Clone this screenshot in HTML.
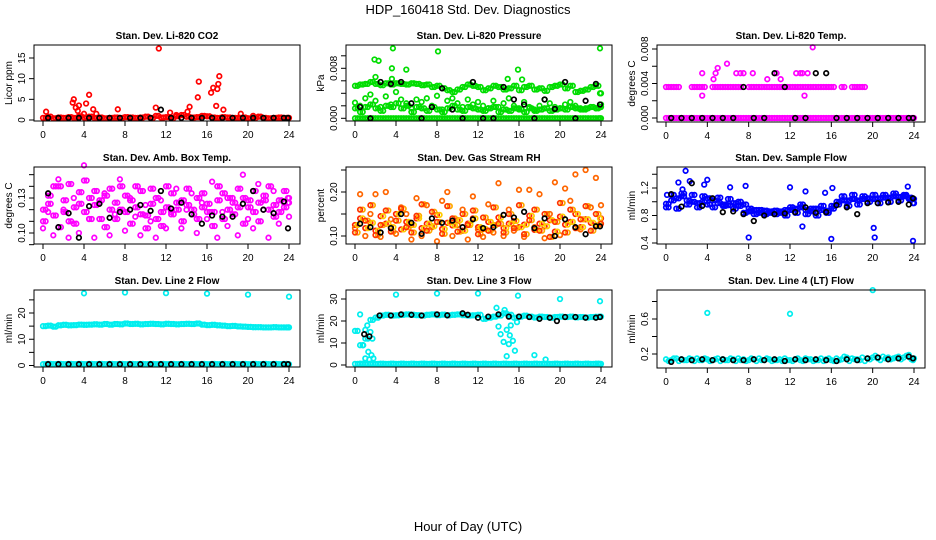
<!DOCTYPE html>
<html><head><meta charset="utf-8"><style>
html,body{margin:0;padding:0;background:#fff;}
svg{display:block;font-family:"Liberation Sans",sans-serif;}
</style></head><body>
<svg id="chart" width="936" height="540" viewBox="0 0 936 540" xmlns="http://www.w3.org/2000/svg">
<text x="468" y="14" text-anchor="middle" font-size="13">HDP_160418  Std. Dev. Diagnostics</text>
<text x="468" y="531" text-anchor="middle" font-size="13">Hour of Day (UTC)</text>
</svg>
<script>
const H = [0,0.5,1,1.5,2,2.5,3,3.5,4,4.5,5,5.5,6,6.5,7,7.5,8,8.5,9,9.5,10,10.5,11,11.5,12,12.5,13,13.5,14,14.5,15,15.5,16,16.5,17,17.5,18,18.5,19,19.5,20,20.5,21,21.5,22,22.5,23,23.5,24];
const H2 = [0.25,0.75,1.25,1.75,2.25,2.75,3.25,3.75,4.25,4.75,5.25,5.75,6.25,6.75,7.25,7.75,8.25,8.75,9.25,9.75,10.25,10.75,11.25,11.75,12.25,12.75,13.25,13.75,14.25,14.75,15.25,15.75,16.25,16.75,17.25,17.75,18.25,18.75,19.25,19.75,20.25,20.75,21.25,21.75,22.25,22.75,23.25,23.75,23.9];
const HK = [0.5,1.5,2.5,3.5,4.5,5.5,6.5,7.5,8.5,9.5,10.5,11.5,12.5,13.5,14.5,15.5,16.5,17.5,18.5,19.5,20.5,21.5,22.5,23.5,23.9];
const xTicks = [0,4,8,12,16,20,24];

// Panel 1: CO2
const co2Base = [0.5,0.8,0.4,0.6,0.5,0.7,0.5,0.9,0.6,0.8,0.5,0.6,0.4,0.5,0.6,0.5,0.7,0.6,0.5,0.6,0.8,0.5,1.0,0.6,0.7,0.5,0.9,1.2,0.8,0.6,0.7,1.0,0.9,0.6,0.5,0.7,0.6,0.5,0.5,0.6,0.4,0.5,0.8,0.5,0.4,0.5,0.6,0.5,0.5];
const co2SpikeX = [0.3,2.9,3.0,3.2,3.4,3.5,4.2,4.5,4.9,5.2,7.3,11.0,11.3,12.4,14.1,14.3,15.1,15.2,16.4,16.6,16.9,17.0,17.1,17.2,17.6,19.3,20.5,4.0,13.0];
const co2SpikeY = [2.0,4.2,5.0,3.0,2.2,3.5,4.0,6.1,2.6,1.5,2.6,3.0,17.3,1.8,2.0,3.2,5.5,9.3,6.6,7.8,3.4,7.5,8.7,10.6,2.5,1.5,1.0,1.5,1.2];
const co2Black = [0.5,0.5,0.5,0.5,0.5,0.5,0.5,0.5,0.5,0.5,0.5,2.5,0.5,0.5,0.5,0.5,0.5,0.5,0.5,0.5,0.5,0.5,0.5,0.5,0.5];

// Panel 2: Pressure
const presTop = [0.0052,0.0054,0.0055,0.0058,0.0055,0.0053,0.0056,0.0054,0.0056,0.0055,0.0054,0.0056,0.0055,0.0053,0.0054,0.0050,0.0052,0.0048,0.0045,0.0042,0.0046,0.0050,0.0054,0.0052,0.0050,0.0045,0.0048,0.0052,0.0050,0.0046,0.0048,0.0052,0.0045,0.0050,0.0052,0.0046,0.0048,0.0044,0.0050,0.0052,0.0054,0.0048,0.0052,0.0042,0.0044,0.0046,0.0050,0.0052,0.0040];
const presMid = [0.0025,0.0020,0.0032,0.0038,0.0028,0.0018,0.0035,0.0022,0.0042,0.0030,0.0024,0.0016,0.0030,0.0026,0.0032,0.0020,0.0036,0.0014,0.0028,0.0032,0.0024,0.0018,0.0030,0.0022,0.0026,0.0020,0.0016,0.0028,0.0018,0.0024,0.0032,0.0020,0.0016,0.0026,0.0018,0.0014,0.0020,0.0030,0.0024,0.0018,0.0016,0.0022,0.0026,0.0020,0.0016,0.0014,0.0018,0.0016,0.0022];
const presLow = [0.0016,0.0010,0.0018,0.0022,0.0016,0.0012,0.0020,0.0018,0.0024,0.0016,0.0020,0.0010,0.0018,0.0016,0.0012,0.0018,0.0014,0.0010,0.0016,0.0020,0.0014,0.0012,0.0018,0.0016,0.0014,0.0012,0.0016,0.0018,0.0010,0.0014,0.0012,0.0016,0.0014,0.0010,0.0016,0.0012,0.0014,0.0016,0.0012,0.0014,0.0016,0.0014,0.0018,0.0016,0.0014,0.0016,0.0018,0.0016,0.0018];
const presZero = [0,0,0,0,0,0,0,0,0,0,0,0,0,0,0,0,0,0,0,0,0,0,0,0,0,0,0,0,0,0,0,0,0,0,0,0,0,0,0,0,0,0,0,0,0,0,0,0,0];
const presOutX = [3.7,8.1,23.9,1.9,2.3,3.6,5.0,15.9,2.0,3.6,16.3,14.9];
const presOutY = [0.0112,0.0107,0.0112,0.0094,0.0092,0.0080,0.0078,0.0078,0.0066,0.0063,0.0062,0.0063];
const presBlack = [0.0018,0.0000,0.0058,0.0055,0.0058,0.0024,0.0000,0.0018,0.0048,0.0014,0.0000,0.0058,0.0000,0.0000,0.0050,0.0030,0.0022,0.0000,0.0030,0.0015,0.0058,0.0000,0.0028,0.0055,0.0022];

// Panel 3: Li-820 Temp
const tempZero = [0,0,0,0,0,0,0,0,0,0,0,0,0,0,0,0,0,0,0,0,0,0,0,0,0,0,0,0,0,0,0,0,0,0,0,0,0,0,0,0,0,0,0,0,0,0,0,0,0];
const tempMid = [0.0036,0.0036,0.0036,null,null,0.0036,0.0036,0.0036,null,0.0036,0.0036,0.0036,0.0036,0.0036,0.0036,null,0.0036,0.0036,0.0036,0.0036,0.0036,0.0036,0.0036,0.0036,0.0036,0.0036,0.0036,0.0036,0.0036,0.0036,0.0036,0.0036,0.0036,null,0.0036,null,0.0036,0.0036,0.0036,null,null,null,null,null,null,null,null,null,null];
const tempHiX = [3.5,3.5,4.6,4.8,5.0,5.9,6.8,7.2,7.5,8.4,9.8,10.7,11.1,12.6,13.0,13.2,13.7,14.2,13.4];
const tempHiY = [0.0052,0.0026,0.0045,0.0052,0.0058,0.0063,0.0052,0.0052,0.0052,0.0052,0.0045,0.0052,0.0045,0.0052,0.0052,0.0052,0.0052,0.0082,0.0026];
const tempBlack = [0,0,0,0,0,0,0,0.0036,0,0,0.0052,0.0036,0,0,0.0052,0.0052,0,0,0,0,0,0,0,0,0];

// Panel 4: Amb Box Temp
const ambA = [0.120,0.125,0.115,0.140,0.128,0.110,0.122,0.135,0.118,0.130,0.124,0.112,0.132,0.120,0.126,0.140,0.118,0.128,0.122,0.136,0.115,0.125,0.130,0.118,0.122,0.134,0.120,0.128,0.124,0.116,0.130,0.122,0.125,0.118,0.128,0.134,0.120,0.126,0.122,0.130,0.128,0.118,0.126,0.132,0.120,0.124,0.128,0.122,0.126];
const ambB = [0.110,0.132,0.140,0.105,0.118,0.142,0.108,0.125,0.145,0.112,0.136,0.128,0.105,0.138,0.112,0.120,0.132,0.108,0.140,0.116,0.104,0.138,0.112,0.106,0.140,0.116,0.126,0.110,0.138,0.120,0.112,0.134,0.118,0.106,0.140,0.112,0.130,0.116,0.138,0.108,0.122,0.136,0.110,0.128,0.140,0.114,0.118,0.136,0.130];
const ambC = [0.104,0.118,0.098,0.146,0.120,0.096,0.130,0.100,0.158,0.112,0.096,0.126,0.134,0.098,0.116,0.146,0.102,0.130,0.114,0.098,0.124,0.110,0.096,0.128,0.104,0.118,0.138,0.104,0.120,0.134,0.100,0.126,0.112,0.144,0.096,0.118,0.106,0.130,0.098,0.150,0.112,0.104,0.142,0.120,0.096,0.136,0.108,0.126,0.114];
const ambBlack = [0.134,0.105,0.117,0.096,0.123,0.125,0.113,0.118,0.120,0.124,0.119,0.136,0.121,0.126,0.116,0.108,0.115,0.114,0.114,0.125,0.136,0.120,0.117,0.127,0.104];

// Panel 5: Gas Stream RH
const rhA = [0.125,0.140,0.118,0.130,0.112,0.145,0.128,0.120,0.150,0.115,0.132,0.125,0.140,0.118,0.128,0.122,0.148,0.116,0.130,0.124,0.136,0.112,0.128,0.140,0.120,0.116,0.132,0.125,0.142,0.118,0.128,0.134,0.120,0.126,0.146,0.114,0.128,0.122,0.136,0.110,0.144,0.126,0.132,0.150,0.120,0.138,0.130,0.124,0.140];
const rhB = [0.108,0.160,0.135,0.170,0.102,0.125,0.158,0.110,0.135,0.162,0.120,0.108,0.146,0.172,0.112,0.155,0.132,0.105,0.168,0.140,0.110,0.150,0.125,0.158,0.104,0.142,0.112,0.165,0.128,0.108,0.150,0.118,0.170,0.104,0.136,0.160,0.112,0.150,0.098,0.132,0.175,0.108,0.160,0.118,0.138,0.168,0.112,0.150,0.128];
const rhC = [0.118,0.195,0.100,0.150,0.195,0.098,0.200,0.138,0.105,0.165,0.150,0.092,0.186,0.100,0.170,0.120,0.088,0.180,0.200,0.100,0.125,0.160,0.092,0.190,0.115,0.098,0.172,0.108,0.220,0.100,0.160,0.112,0.205,0.098,0.205,0.120,0.195,0.095,0.150,0.222,0.102,0.208,0.180,0.240,0.115,0.250,0.165,0.232,0.170];
const rhBlack = [0.128,0.120,0.108,0.118,0.150,0.130,0.105,0.140,0.130,0.135,0.120,0.138,0.118,0.120,0.148,0.142,0.155,0.118,0.140,0.100,0.138,0.120,0.104,0.122,0.122];

// Panel 6: Sample Flow
const flowA = [0.97,1.02,1.05,1.08,1.02,1.00,0.98,1.00,0.96,1.02,0.98,0.96,0.95,0.98,0.94,0.96,0.90,0.88,0.88,0.87,0.86,0.87,0.86,0.88,0.88,0.90,0.92,0.88,0.86,0.90,0.88,0.87,0.90,1.00,1.02,1.02,1.04,1.02,1.04,1.05,1.04,1.05,1.06,1.06,1.08,1.07,1.08,1.06,1.04];
const flowB = [0.92,1.10,0.90,1.12,0.96,1.10,0.92,1.08,1.05,0.92,1.06,0.94,1.04,0.90,1.00,0.84,0.86,0.82,0.84,0.82,0.84,0.82,0.84,0.80,0.92,0.84,0.96,0.82,0.90,0.80,0.94,0.84,0.94,0.96,1.08,0.94,1.10,0.96,1.08,1.00,1.10,0.98,1.10,1.00,1.12,1.02,1.10,1.04,0.98];
const flowOutX = [0.1,1.2,1.9,2.3,3.7,4.0,6.2,7.7,8.0,12.0,13.2,13.5,15.4,16.0,16.1,20.1,20.2,23.9,23.4,1.6];
const flowOutY = [1.10,1.28,1.45,1.30,1.25,1.32,1.21,1.23,0.48,1.21,0.64,1.15,1.13,0.46,1.20,0.62,0.48,0.43,1.22,1.18];
const flowBlack = [1.11,0.93,1.27,0.94,1.05,0.85,0.86,0.82,0.72,0.80,0.82,0.83,0.85,0.92,0.84,0.85,0.95,0.92,0.82,0.98,0.98,0.99,1.00,0.96,1.05];

// Panel 7: Line 2 Flow
const l2Top = [15.0,15.2,14.8,15.3,15.5,15.3,15.4,15.6,15.5,15.6,15.7,15.6,15.8,15.6,15.8,15.7,16.0,15.8,15.9,15.7,15.8,15.9,15.8,15.7,15.9,15.8,15.7,15.8,15.9,15.8,16.0,15.6,15.4,15.5,15.3,15.2,15.0,15.1,14.9,14.8,14.7,14.6,14.6,14.5,14.5,14.6,14.5,14.5,14.5];
const l2Low = [0.5,0.6,0.5,0.6,0.5,0.6,0.5,0.6,0.5,0.6,0.5,0.6,0.5,0.6,0.5,0.6,0.5,0.6,0.5,0.6,0.5,0.6,0.5,0.6,0.5,0.6,0.5,0.6,0.5,0.6,0.5,0.6,0.5,0.6,0.5,0.6,0.5,0.6,0.5,0.6,0.5,0.6,0.5,0.6,0.5,0.6,0.5,0.6,0.5];
const l2OutX = [4,8,12,16,20,24];
const l2OutY = [27.5,27.8,27.6,27.4,27.0,26.2];
const l2Black = [0.5,0.5,0.5,0.5,0.5,0.5,0.5,0.5,0.5,0.5,0.5,0.5,0.5,0.5,0.5,0.5,0.5,0.5,0.5,0.5,0.5,0.5,0.5,0.5,0.5];

// Panel 8: Line 3 Flow
const l3Top = [15.5,9.0,12.0,20.5,21.5,22.5,22.8,22.5,22.6,22.8,23.0,22.8,22.7,22.5,22.8,23.0,22.7,22.9,22.6,22.8,23.0,22.7,22.5,22.6,22.8,21.0,21.5,22.0,22.5,23.5,22.8,21.5,22.0,22.4,22.0,21.6,22.0,21.8,21.5,21.8,22.0,21.8,22.0,21.7,21.8,21.6,21.8,21.9,22.0];
const l3Low = [0.5,0.6,0.5,0.6,0.5,0.6,0.5,0.6,0.5,0.6,0.5,0.6,0.5,0.6,0.5,0.6,0.5,0.6,0.5,0.6,0.5,0.6,0.5,0.6,0.5,0.6,0.5,0.6,0.5,0.6,0.5,0.6,0.5,0.6,0.5,0.6,0.5,0.6,0.5,0.6,0.5,0.6,0.5,0.6,0.5,0.6,0.5,0.6,0.5];
const l3OutX = [0.5,0.8,1.0,1.2,1.3,1.5,1.6,1.7,1.8,1.0,1.4,4.0,8.0,12.0,15.9,20.0,23.9,13.8,14.2,14.5,14.8,15.0,15.2,15.4,14.6,15.6,15.1,14.8,17.5,18.6,14.0,15.8];
const l3OutY = [23.0,9.0,3.0,18.0,6.0,15.0,4.5,12.0,3.0,16.0,2.5,32.0,32.5,32.5,31.5,30.0,29.0,26.0,14.0,10.5,16.0,9.5,18.0,11.0,25.0,6.5,13.5,4.0,4.5,2.5,17.5,19.5];
const l3Black = [14.0,13.0,22.5,22.5,23.0,22.8,22.5,23.0,22.6,23.5,22.8,21.5,22.0,23.0,22.0,22.0,21.8,21.0,21.5,20.0,21.8,21.8,21.5,21.5,21.8];
const l3BlackX = [0.9,1.4,2.4,3.5,4.5,5.5,6.5,8.0,9.0,10.5,11.0,12.0,13.0,14.0,15.0,16.0,17.0,18.0,19.0,19.7,20.5,21.5,22.5,23.5,23.9];

// Panel 9: Line 4 Flow
const l4A = [0.14,0.13,0.15,0.14,0.13,0.14,0.15,0.13,0.14,0.13,0.15,0.14,0.13,0.14,0.15,0.14,0.13,0.14,0.15,0.13,0.14,0.13,0.14,0.15,0.13,0.14,0.13,0.15,0.14,0.13,0.15,0.14,0.13,0.15,0.14,0.16,0.15,0.14,0.16,0.15,0.16,0.15,0.17,0.16,0.15,0.17,0.16,0.18,0.15];
const l4B = [0.12,0.15,0.12,0.13,0.15,0.12,0.13,0.15,0.12,0.14,0.12,0.13,0.15,0.12,0.13,0.12,0.15,0.12,0.13,0.15,0.12,0.13,0.12,0.13,0.12,0.15,0.12,0.14,0.12,0.13,0.12,0.15,0.12,0.13,0.17,0.12,0.14,0.13,0.12,0.14,0.18,0.13,0.15,0.14,0.16,0.14,0.18,0.14,0.13];
const l4OutX = [4,12,20,23.5];
const l4OutY = [0.67,0.66,0.93,0.19];
const l4Black = [0.11,0.14,0.13,0.14,0.13,0.14,0.13,0.13,0.14,0.13,0.14,0.12,0.14,0.13,0.14,0.13,0.12,0.14,0.13,0.15,0.16,0.14,0.15,0.17,0.15];

const panels = [
 {name:'co2', title:'Stan. Dev. Li-820 CO2', ylab:'Licor ppm', L:34,R:300,T:45,B:121, y0:0,y0px:120,y1:15,y1px:58, yt:[0,5,10,15], yl:['0','5','10','15'],
  series:[[H,co2Base,'#ff0000'],[H2,co2Base,'#ff0000'],[co2SpikeX,co2SpikeY,'#ff0000'],[HK,co2Black,'#000']]},
 {name:'pressure', title:'Stan. Dev. Li-820 Pressure', ylab:'kPa', L:346,R:612,T:45,B:121, y0:0,y0px:118.3,y1:0.008,y1px:68.3, yt:[0,0.002,0.004,0.006,0.008,0.010,0.012], yl:['0.000','','','','0.008','',''],
  series:[[H,presTop,'#00dd00'],[H2,presTop,'#00dd00'],[H,presMid,'#00dd00'],[H2,presLow,'#00dd00'],[H,presLow,'#00dd00'],[H,presZero,'#00dd00'],[H2,presZero,'#00dd00'],[presOutX,presOutY,'#00dd00'],[HK,presBlack,'#000']]},
 {name:'li820-temp', title:'Stan. Dev. Li-820 Temp.', ylab:'degrees C', L:657,R:925,T:45,B:122, y0:0,y0px:118,y1:0.008,y1px:49, yt:[0,0.002,0.004,0.006,0.008], yl:['0.000','','0.004','','0.008'],
  series:[[H,tempZero,'#ff00ff'],[H2,tempZero,'#ff00ff'],[H,tempMid,'#ff00ff'],[H2,tempMid,'#ff00ff'],[tempHiX,tempHiY,'#ff00ff'],[HK,tempBlack,'#000']]},
 {name:'amb-box-temp', title:'Stan. Dev. Amb. Box Temp.', ylab:'degrees C', L:34,R:300,T:167,B:244, y0:0.10,y0px:233,y1:0.13,y1px:198, yt:[0.09,0.10,0.11,0.12,0.13,0.14,0.15], yl:['','0.10','','','0.13','',''],
  series:[[H,ambA,'#ff00ff'],[H2,ambB,'#ff00ff'],[H,ambC,'#ff00ff'],[H2,ambA,'#ff00ff'],[H,ambB,'#ff00ff'],[HK,ambBlack,'#000']]},
 {name:'gas-stream-rh', title:'Stan. Dev. Gas Stream RH', ylab:'percent', L:346,R:612,T:167,B:244, y0:0.10,y0px:236,y1:0.20,y1px:192, yt:[0.10,0.15,0.20,0.25], yl:['0.10','','0.20',''],
  series:[[H,rhA,'#ff2200'],[H2,rhB,'#ffaa00'],[H,rhC,'#ff6600'],[H2,rhA,'#ffcc00'],[H,rhB,'#ff3300'],[HK,rhBlack,'#000']]},
 {name:'sample-flow', title:'Stan. Dev. Sample Flow', ylab:'ml/min', L:657,R:925,T:167,B:244, y0:0.4,y0px:243,y1:1.2,y1px:188, yt:[0.4,0.6,0.8,1.0,1.2,1.4], yl:['0.4','','0.8','','1.2',''],
  series:[[H,flowA,'#0000ff'],[H2,flowA,'#0000ff'],[H,flowB,'#0000ff'],[H2,flowB,'#0000ff'],[flowOutX,flowOutY,'#0000ff'],[HK,flowBlack,'#000']]},
 {name:'line2-flow', title:'Stan. Dev. Line 2 Flow', ylab:'ml/min', L:34,R:300,T:290,B:367, y0:0,y0px:365.5,y1:20,y1px:313, yt:[0,5,10,15,20,25], yl:['0','','10','','20',''],
  series:[[H,l2Top,'#00eeee'],[H2,l2Top,'#00eeee'],[H,l2Low,'#00eeee'],[H2,l2Low,'#00eeee'],[l2OutX,l2OutY,'#00eeee'],[HK,l2Black,'#000']]},
 {name:'line3-flow', title:'Stan. Dev. Line 3 Flow', ylab:'ml/min', L:346,R:612,T:290,B:367, y0:0,y0px:365,y1:30,y1px:299, yt:[0,10,20,30], yl:['0','10','20','30'],
  series:[[H,l3Top,'#00eeee'],[H2,l3Top,'#00eeee'],[H,l3Low,'#00eeee'],[H2,l3Low,'#00eeee'],[l3OutX,l3OutY,'#00eeee'],[l3BlackX,l3Black,'#000']]},
 {name:'line4-flow', title:'Stan. Dev. Line 4 (LT) Flow', ylab:'ml/min', L:657,R:925,T:290,B:368, y0:0.2,y0px:354,y1:0.6,y1px:319, yt:[0.2,0.4,0.6,0.8], yl:['0.2','','0.6',''],
  series:[[H,l4A,'#00eeee'],[H2,l4B,'#00eeee'],[l4OutX,l4OutY,'#00eeee'],[HK,l4Black,'#000']]}
];

const NS='http://www.w3.org/2000/svg';
const svg=document.getElementById('chart');
function mk(tag,attrs,parent){const e=document.createElementNS(NS,tag);for(const k in attrs)e.setAttribute(k,attrs[k]);(parent||svg).appendChild(e);return e;}

panels.forEach(p=>{
  const g=mk('g',{});
  
  
  const xs=v=>(p.L+9)+(v/24)*((p.R-11)-(p.L+9));
  const ys=v=>p.y0px+(v-p.y0)*(p.y1px-p.y0px)/(p.y1-p.y0);
  const t=mk('text',{x:(p.L+p.R)/2,y:p.T-6,'text-anchor':'middle','font-size':'10','font-weight':'bold'},g);
  t.textContent=p.title;
  
  
  const pg=mk('g',{fill:'none','stroke-width':'1.7'},g);
  
  
  p.series.forEach(s=>{
    const X=s[0],Y=s[1];
    for(let i=0;i<X.length;i++){
      if(Y[i]===null||Y[i]===undefined) continue;
      const cy=ys(Y[i]);
      if(cy<p.T-2||cy>p.B+2) continue;
      const c=mk('circle',{cx:xs(X[i]).toFixed(1),cy:cy.toFixed(1),r:'2.3',stroke:s[2]},pg);
      
      
    }
  });
  const box=mk('rect',{x:p.L,y:p.T,width:p.R-p.L,height:p.B-p.T,fill:'none',stroke:'#000','stroke-width':'1'},g);
  
  
  const ax=mk('g',{stroke:'#000','stroke-width':'1'},g);
  
  
  mk('line',{x1:xs(0),x2:xs(24),y1:p.B,y2:p.B},ax);
  xTicks.forEach(v=>{
    mk('line',{x1:xs(v),x2:xs(v),y1:p.B,y2:p.B+5},ax);
    const tl=mk('text',{x:xs(v),y:p.B+17,'text-anchor':'middle','font-size':'10',stroke:'none',fill:'#000'},g);
    tl.textContent=String(v);
    
    
  });
  const ay=mk('g',{stroke:'#000','stroke-width':'1'},g);
  
  
  const yv=p.yt.filter(v=>ys(v)>=p.T-1&&ys(v)<=p.B+1);
  if(yv.length){mk('line',{x1:p.L,x2:p.L,y1:ys(yv[0]),y2:ys(yv[yv.length-1])},ay);}
  p.yt.forEach((v,i)=>{
    const y=ys(v); if(y<p.T-1||y>p.B+1) return;
    mk('line',{x1:p.L-5,x2:p.L,y1:y,y2:y},ay);
    if(p.yl[i]){
      const tl=mk('text',{x:p.L-9,y:y,'text-anchor':'middle','font-size':'10',transform:`rotate(-90 ${p.L-9} ${y})`},g);
      tl.textContent=p.yl[i];
      
      
    }
  });
  const yl=mk('text',{x:p.L-22,y:(p.T+p.B)/2,'text-anchor':'middle','font-size':'10',transform:`rotate(-90 ${p.L-22} ${(p.T+p.B)/2})`},g);
  yl.textContent=p.ylab;
  
  
});
</script>
</body></html>
